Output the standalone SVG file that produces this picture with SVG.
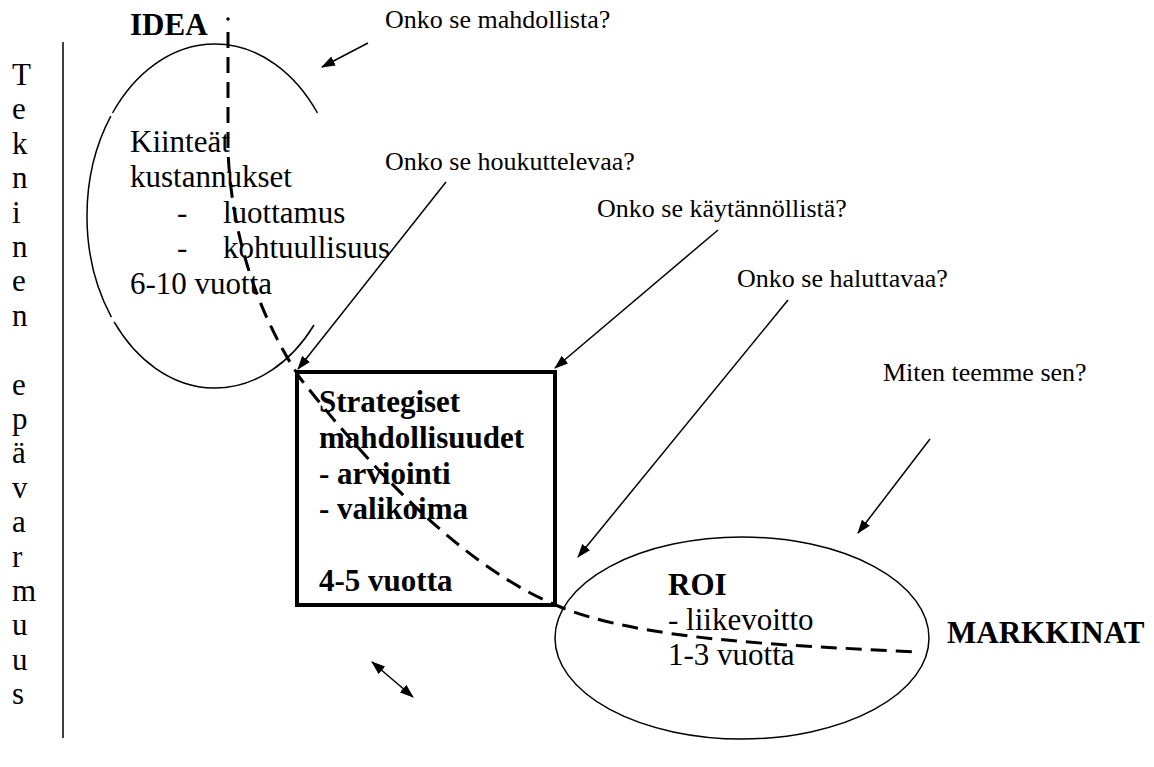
<svg xmlns="http://www.w3.org/2000/svg" width="1154" height="767" viewBox="0 0 1154 767">
  <style>
    .t { font-family: "Liberation Serif", "Times New Roman", serif; fill: #000; }
    .main { font-size: 31px; }
    .q { font-size: 26px; }
    .b { font-weight: bold; }
    .thin { fill: none; stroke: #000; stroke-width: 1.5; }
    .arrow { fill: none; stroke: #000; stroke-width: 1.5; marker-end: url(#head); }
    .dash { fill: none; stroke: #000; stroke-width: 3; stroke-dasharray: 16 9; }
  </style>
  <defs>
    <marker id="head" viewBox="0 0 14 10" refX="13" refY="5" markerWidth="14" markerHeight="10" markerUnits="userSpaceOnUse" orient="auto-start-reverse">
      <path d="M0,0 L14,5 L0,10 z" fill="#000"/>
    </marker>
  </defs>
  <rect width="1154" height="767" fill="#fff"/>

  <!-- vertical axis: technical uncertainty -->
  <g id="axis">
    <line x1="63" y1="42" x2="63" y2="738" class="thin"/>
    <text class="t main">
      <tspan x="12" y="85">T</tspan>
      <tspan x="12" y="119.4">e</tspan>
      <tspan x="12" y="153.8">k</tspan>
      <tspan x="12" y="188.2">n</tspan>
      <tspan x="12" y="222.6">i</tspan>
      <tspan x="12" y="257">n</tspan>
      <tspan x="12" y="291.4">e</tspan>
      <tspan x="12" y="325.8">n</tspan>
      <tspan x="12" y="394.6">e</tspan>
      <tspan x="12" y="429">p</tspan>
      <tspan x="12" y="463.4">ä</tspan>
      <tspan x="12" y="497.8">v</tspan>
      <tspan x="12" y="532.2">a</tspan>
      <tspan x="12" y="566.6">r</tspan>
      <tspan x="12" y="601">m</tspan>
      <tspan x="12" y="635.4">u</tspan>
      <tspan x="12" y="669.8">u</tspan>
      <tspan x="12" y="704.2">s</tspan>
    </text>
  </g>

  <!-- IDEA ellipse: fixed costs (outline broken where the text frame sits) -->
  <g id="idea">
    <text class="t main b" x="130" y="35">IDEA</text>
    <path class="thin" d="M317.5,113 A128,172 0 0 0 112.5,113 M110.8,116.1 A128,172 0 0 0 111.4,317.1 M114.1,321.9 A128,172 0 0 0 314,325"/>
    <text class="t main" x="130" y="152">Kiinteät</text>
    <text class="t main" x="130" y="187">kustannukset</text>
    <text class="t main" x="177" y="223">-</text>
    <text class="t main" x="223" y="223">luottamus</text>
    <text class="t main" x="177" y="258">-</text>
    <text class="t main" x="223" y="258">kohtuullisuus</text>
    <text class="t main" x="130" y="294">6-10 vuotta</text>
  </g>

  <!-- strategic opportunities box -->
  <g id="strategy">
    <rect x="297" y="372" width="258" height="233" fill="none" stroke="#000" stroke-width="4"/>
    <text class="t main b" x="319" y="412">Strategiset</text>
    <text class="t main b" x="319" y="448">mahdollisuudet</text>
    <text class="t main b" x="319" y="484">- arviointi</text>
    <text class="t main b" x="319" y="519">- valikoima</text>
    <text class="t main b" x="319" y="591">4-5 vuotta</text>
  </g>

  <!-- ROI ellipse -->
  <g id="roi">
    <ellipse cx="742" cy="638" rx="187" ry="101" class="thin"/>
    <text class="t main b" x="668" y="595">ROI</text>
    <text class="t main" x="668" y="630">- liikevoitto</text>
    <text class="t main" x="668" y="665">1-3 vuotta</text>
  </g>

  <g id="markets">
    <text class="t main b" x="947" y="643">MARKKINAT</text>
  </g>

  <!-- question labels -->
  <g id="questions">
    <text class="t q" x="385" y="28">Onko se mahdollista?</text>
    <text class="t q" x="385" y="170">Onko se houkuttelevaa?</text>
    <text class="t q" x="597" y="217">Onko se käytännöllistä?</text>
    <text class="t q" x="737" y="287">Onko se haluttavaa?</text>
    <text class="t q" x="883" y="381">Miten teemme sen?</text>
  </g>

  <!-- connectors -->
  <g id="connectors">
    <circle cx="228" cy="19" r="1.8" fill="#000"/>
    <path class="dash" d="M228,32 L228,150 C231,230 255,310 300,378 C380,480 470,570 558,606 C640,640 780,645 917,652"/>
    <line class="arrow" x1="368" y1="43" x2="322" y2="67"/>
    <line class="arrow" x1="446" y1="182" x2="298" y2="369"/>
    <line class="arrow" x1="718" y1="230" x2="555" y2="368"/>
    <line class="arrow" x1="788" y1="300" x2="578" y2="557"/>
    <line class="arrow" x1="930" y1="439" x2="858" y2="533"/>
    <line class="arrow" x1="372" y1="662" x2="413" y2="697" marker-start="url(#head)"/>
  </g>
</svg>
